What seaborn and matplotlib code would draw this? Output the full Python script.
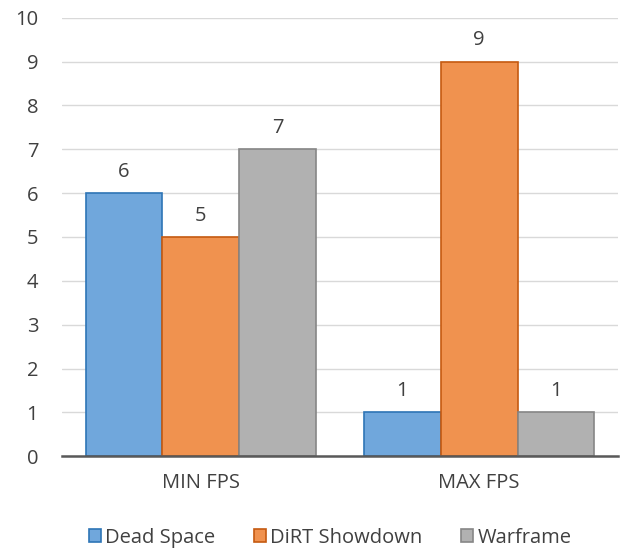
import pandas as pd
import seaborn as sns
import matplotlib.pyplot as plt
from matplotlib.patches import Patch

categorias = ['MIN FPS', 'MAX FPS']
jogos = ['Dead Space', 'DiRT Showdown', 'Warframe']
dead_space = [6, 1]
dirt_showdown = [5, 9]
warframe = [7, 1]

cores = ['#70A7DC', '#F0924F', '#B1B1B1']
bordas = ['#2E75B6', '#C55A11', '#868686']

df = pd.DataFrame({
    'categoria': categorias * 3,
    'jogo': [jogos[0]] * 2 + [jogos[1]] * 2 + [jogos[2]] * 2,
    'valor': dead_space + dirt_showdown + warframe,
})

sns.set_style('white')
plt.rcParams['font.family'] = ['Open Sans', 'DejaVu Sans']

fig = plt.figure(figsize=(6.25, 5.55), dpi=100)
ax = fig.add_axes([0.099, 0.178, 0.890, 0.790])

sns.barplot(data=df, x='categoria', y='valor', hue='jogo', palette=cores,
            width=0.83, gap=0, ax=ax, legend=False, saturation=1)

for cont, borda in zip(ax.containers, bordas):
    for barra in cont:
        barra.set_edgecolor(borda)
        barra.set_linewidth(1.2)
    ax.bar_label(cont, padding=8, fontsize=14.5, color='#404040')

ax.set_ylim(0, 10)
ax.set_xlim(-0.5, 1.5)
ax.set_yticks(range(0, 11))
ax.yaxis.grid(True, color='#D9D9D9', linewidth=1)
ax.set_axisbelow(True)
for lado in ['top', 'right', 'left']:
    ax.spines[lado].set_visible(False)
ax.spines['bottom'].set_color('#595959')
ax.spines['bottom'].set_linewidth(1.8)
ax.tick_params(axis='both', length=0, labelsize=14.5, labelcolor='#404040')
ax.tick_params(axis='y', pad=17)
ax.tick_params(axis='x', pad=12)
ax.set_xlabel('')
ax.set_ylabel('')

handles = [Patch(facecolor=c, edgecolor=b, linewidth=1.2) for c, b in zip(cores, bordas)]
fig.legend(handles, jogos, loc='center', bbox_to_anchor=(0.528, 0.031), ncol=3,
           frameon=False, fontsize=14.5, handlelength=0.62, handleheight=0.62,
           handletextpad=0.2, columnspacing=1.9, labelcolor='#404040')

fig.savefig('out.png', dpi=100)
